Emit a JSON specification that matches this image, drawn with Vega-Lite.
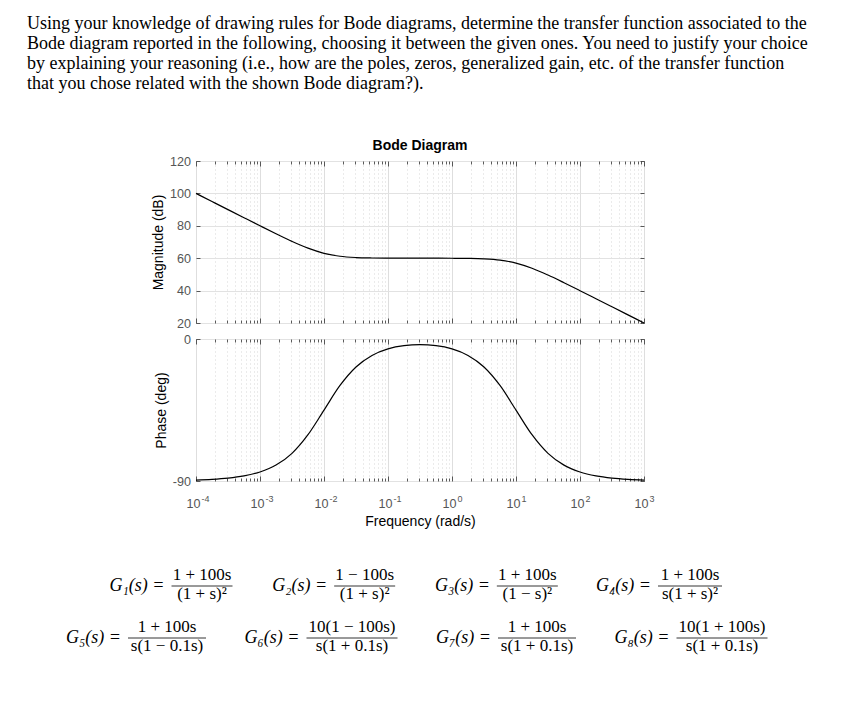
{
  "$schema": "https://vega.github.io/schema/vega-lite/v6.json",
  "background": "white",
  "padding": {"left": 27, "top": 14, "right": 10, "bottom": 10},
  "title": {
    "text": [
      "Using your knowledge of drawing rules for Bode diagrams, determine the transfer function associated to the",
      "Bode diagram reported in the following, choosing it between the given ones. You need to justify your choice",
      "by explaining your reasoning (i.e., how are the poles, zeros, generalized gain, etc.  of the transfer function",
      "that you chose related with the shown Bode diagram?)."
    ],
    "anchor": "start",
    "frame": "group",
    "dx": -169,
    "font": "Liberation Serif",
    "fontSize": 18,
    "fontWeight": "normal",
    "color": "#000",
    "lineHeight": 20,
    "offset": 46
  },
  "spacing": 33,
  "vconcat": [
    {
      "spacing": 1,
      "vconcat": [
        {
          "width": 448,
          "height": 162,
          "title": {"text": "Bode Diagram", "font": "Liberation Sans", "fontSize": 14, "fontWeight": "bold", "color": "#000", "offset": 2},
          "data": {"name": "bode"},
          "layer": [
            {
              "mark": {"type": "line", "color": "#000", "strokeWidth": 1.2, "interpolate": "monotone"},
              "encoding": {
                "x": {
                  "field": "w", "type": "quantitative",
                  "scale": {"type": "log", "domain": [0.0001, 1000], "nice": false},
                  "axis": {
                    "orient": "bottom", "title": null, "labels": false,
                    "values": [0.0001,0.0002,0.0003,0.0004,0.0005,0.0006,0.0007,0.0008,0.0009,0.001,0.002,0.003,0.004,0.005,0.006,0.007,0.008,0.009,0.01,0.02,0.03,0.04,0.05,0.06,0.07,0.08,0.09,0.1,0.2,0.3,0.4,0.5,0.6,0.7,0.8,0.9,1,2,3,4,5,6,7,8,9,10,20,30,40,50,60,70,80,90,100,200,300,400,500,600,700,800,900,1000],
                    "tickSize": {"condition": {"test": "abs(log(datum.value)/LN10 - round(log(datum.value)/LN10)) < 0.001", "value": -5}, "value": -3},
                    "grid": true,
                    "gridColor": {"condition": {"test": "abs(log(datum.value)/LN10 - round(log(datum.value)/LN10)) < 0.001", "value": "#dedede"}, "value": "#d6d6d6"},
                    "gridDash": {"condition": {"test": "abs(log(datum.value)/LN10 - round(log(datum.value)/LN10)) < 0.001", "value": []}, "value": [1, 3]}
                  }
                },
                "y": {
                  "field": "mag", "type": "quantitative",
                  "scale": {"domain": [20, 120], "nice": false, "zero": false},
                  "axis": {
                    "values": [20, 40, 60, 80, 100, 120],
                    "tickSize": -4, "labelPadding": 9.5,
                    "grid": true,
                    "title": "Magnitude (dB)", "titlePadding": 4
                  }
                }
              }
            },
            {
              "mark": {"type": "line", "opacity": 0},
              "encoding": {
                "x": {
                  "field": "w", "type": "quantitative",
                  "scale": {"type": "log", "domain": [0.0001, 1000], "nice": false},
                  "axis": {
                    "orient": "top", "title": null, "labels": false, "grid": false,
                    "values": [0.0001,0.0002,0.0003,0.0004,0.0005,0.0006,0.0007,0.0008,0.0009,0.001,0.002,0.003,0.004,0.005,0.006,0.007,0.008,0.009,0.01,0.02,0.03,0.04,0.05,0.06,0.07,0.08,0.09,0.1,0.2,0.3,0.4,0.5,0.6,0.7,0.8,0.9,1,2,3,4,5,6,7,8,9,10,20,30,40,50,60,70,80,90,100,200,300,400,500,600,700,800,900,1000],
                    "tickSize": {"condition": {"test": "abs(log(datum.value)/LN10 - round(log(datum.value)/LN10)) < 0.001", "value": -5}, "value": -3}
                  }
                },
                "y": {
                  "field": "mag", "type": "quantitative",
                  "scale": {"domain": [20, 120], "nice": false, "zero": false},
                  "axis": {"orient": "right", "title": null, "labels": false, "grid": false, "values": [20, 40, 60, 80, 100, 120], "tickSize": -4}
                }
              }
            }
          ],
          "resolve": {"axis": {"x": "independent", "y": "independent"}}
        },
        {
          "width": 448,
          "height": 142,
          "data": {"name": "bode"},
          "layer": [
            {
              "mark": {"type": "line", "color": "#000", "strokeWidth": 1.2, "interpolate": "monotone"},
              "encoding": {
                "x": {
                  "field": "w", "type": "quantitative",
                  "scale": {"type": "log", "domain": [0.0001, 1000], "nice": false},
                  "axis": {
                    "orient": "bottom",
                    "title": "Frequency  (rad/s)", "titlePadding": 2,
                    "values": [0.0001,0.0002,0.0003,0.0004,0.0005,0.0006,0.0007,0.0008,0.0009,0.001,0.002,0.003,0.004,0.005,0.006,0.007,0.008,0.009,0.01,0.02,0.03,0.04,0.05,0.06,0.07,0.08,0.09,0.1,0.2,0.3,0.4,0.5,0.6,0.7,0.8,0.9,1,2,3,4,5,6,7,8,9,10,20,30,40,50,60,70,80,90,100,200,300,400,500,600,700,800,900,1000],
                    "labelExpr": "abs(log(datum.value)/LN10 - round(log(datum.value)/LN10)) > 0.001 ? '' : '10'",
                    "labelFlush": false, "labelOverlap": false, "labelPadding": 21.5, "labelOffset": -3,
                    "tickSize": {"condition": {"test": "abs(log(datum.value)/LN10 - round(log(datum.value)/LN10)) < 0.001", "value": -5}, "value": -3},
                    "grid": true,
                    "gridColor": {"condition": {"test": "abs(log(datum.value)/LN10 - round(log(datum.value)/LN10)) < 0.001", "value": "#dedede"}, "value": "#d6d6d6"},
                    "gridDash": {"condition": {"test": "abs(log(datum.value)/LN10 - round(log(datum.value)/LN10)) < 0.001", "value": []}, "value": [1, 3]}
                  }
                },
                "y": {
                  "field": "ph", "type": "quantitative",
                  "scale": {"domain": [-90, 0], "nice": false, "zero": false},
                  "axis": {
                    "values": [-90, 0],
                    "labelExpr": "datum.value < 0 ? '-90' : '0'",
                    "tickSize": -4, "labelPadding": 9.5,
                    "grid": true,
                    "title": "Phase (deg)", "titlePadding": 4
                  }
                }
              }
            },
            {
              "mark": {"type": "line", "opacity": 0},
              "encoding": {
                "x": {
                  "field": "w", "type": "quantitative",
                  "scale": {"type": "log", "domain": [0.0001, 1000], "nice": false},
                  "axis": {
                    "orient": "top", "title": null, "labels": false, "grid": false,
                    "values": [0.0001,0.0002,0.0003,0.0004,0.0005,0.0006,0.0007,0.0008,0.0009,0.001,0.002,0.003,0.004,0.005,0.006,0.007,0.008,0.009,0.01,0.02,0.03,0.04,0.05,0.06,0.07,0.08,0.09,0.1,0.2,0.3,0.4,0.5,0.6,0.7,0.8,0.9,1,2,3,4,5,6,7,8,9,10,20,30,40,50,60,70,80,90,100,200,300,400,500,600,700,800,900,1000],
                    "tickSize": {"condition": {"test": "abs(log(datum.value)/LN10 - round(log(datum.value)/LN10)) < 0.001", "value": -5}, "value": -3}
                  }
                },
                "y": {
                  "field": "ph", "type": "quantitative",
                  "scale": {"domain": [-90, 0], "nice": false, "zero": false},
                  "axis": {"orient": "right", "title": null, "labels": false, "grid": false, "values": [-90, 0], "tickSize": -4}
                }
              }
            },
            {
              "mark": {"type": "line", "opacity": 0},
              "encoding": {
                "x": {
                  "field": "w", "type": "quantitative",
                  "scale": {"type": "log", "domain": [0.0001, 1000], "nice": false},
                  "axis": {
                    "orient": "bottom", "title": null, "grid": false,
                    "values": [0.0001, 0.001, 0.01, 0.1, 1, 10, 100, 1000],
                    "labelExpr": "replace(format(round(log(datum.value)/LN10), 'd'), '−', '-')",
                    "labelAlign": "left", "labelOffset": 5, "labelFontSize": 9,
                    "labelFlush": false, "labelOverlap": false, "labelPadding": 18.5,
                    "tickSize": -5, "tickOpacity": 0
                  }
                },
                "y": {"field": "ph", "type": "quantitative", "scale": {"domain": [-90, 0], "nice": false, "zero": false}, "axis": null}
              }
            }
          ],
          "resolve": {"axis": {"x": "independent", "y": "independent"}}
        }
      ]
    },
    {
      "width": 448,
      "height": 90,
      "view": {"stroke": null},
      "data": {"name": "eqs"},
      "encoding": {
        "y": {"field": "row", "type": "quantitative", "scale": {"domain": [1, 2], "range": [24, 76], "zero": false, "nice": false}, "axis": null}
      },
      "layer": [
        {
          "transform": [{"filter": "datum.row == 1"}],
          "encoding": {
            "x": {"field": "col", "type": "quantitative", "scale": {"domain": [1, 4], "range": [6, 494], "zero": false, "nice": false}, "axis": null}
          },
          "layer": [
            {"mark": {"type": "text", "dy": -6, "font": "Liberation Serif", "fontSize": 17, "align": "center", "baseline": "alphabetic", "color": "#000"}, "encoding": {"text": {"field": "num"}}},
            {"mark": {"type": "text", "dy": 13, "font": "Liberation Serif", "fontSize": 17, "align": "center", "baseline": "alphabetic", "color": "#000"}, "encoding": {"text": {"field": "den"}}},
            {
              "transform": [{"filter": {"field": "name", "oneOf": ["G1", "G2", "G3"]}}],
              "layer": [
                {"mark": {"type": "rule", "xOffset": -30.5, "x2Offset": 30.5, "strokeWidth": 0.8, "color": "#000"}, "encoding": {"x2": {"field": "col"}}},
                {"mark": {"type": "text", "xOffset": -37.5, "dy": 5, "font": "Liberation Serif", "fontSize": 18, "fontStyle": "italic", "align": "right", "baseline": "alphabetic", "color": "#000"}, "encoding": {"text": {"field": "lab"}}}
              ]
            },
            {
              "transform": [{"filter": {"field": "name", "oneOf": ["G4"]}}],
              "layer": [
                {"mark": {"type": "rule", "xOffset": -32, "x2Offset": 32, "strokeWidth": 0.8, "color": "#000"}, "encoding": {"x2": {"field": "col"}}},
                {"mark": {"type": "text", "xOffset": -39, "dy": 5, "font": "Liberation Serif", "fontSize": 18, "fontStyle": "italic", "align": "right", "baseline": "alphabetic", "color": "#000"}, "encoding": {"text": {"field": "lab"}}}
              ]
            }
          ]
        },
        {
          "transform": [{"filter": "datum.row == 2"}],
          "encoding": {
            "x": {"field": "col", "type": "quantitative", "scale": {"domain": [1, 4], "range": [-29, 526], "zero": false, "nice": false}, "axis": null}
          },
          "layer": [
            {"mark": {"type": "text", "dy": -6, "font": "Liberation Serif", "fontSize": 17, "align": "center", "baseline": "alphabetic", "color": "#000"}, "encoding": {"text": {"field": "num"}}},
            {"mark": {"type": "text", "dy": 13, "font": "Liberation Serif", "fontSize": 17, "align": "center", "baseline": "alphabetic", "color": "#000"}, "encoding": {"text": {"field": "den"}}},
            {
              "transform": [{"filter": {"field": "name", "oneOf": ["G5", "G7"]}}],
              "layer": [
                {"mark": {"type": "rule", "xOffset": -39, "x2Offset": 39, "strokeWidth": 0.8, "color": "#000"}, "encoding": {"x2": {"field": "col"}}},
                {"mark": {"type": "text", "xOffset": -46, "dy": 5, "font": "Liberation Serif", "fontSize": 18, "fontStyle": "italic", "align": "right", "baseline": "alphabetic", "color": "#000"}, "encoding": {"text": {"field": "lab"}}}
              ]
            },
            {
              "transform": [{"filter": {"field": "name", "oneOf": ["G6", "G8"]}}],
              "layer": [
                {"mark": {"type": "rule", "xOffset": -45.5, "x2Offset": 45.5, "strokeWidth": 0.8, "color": "#000"}, "encoding": {"x2": {"field": "col"}}},
                {"mark": {"type": "text", "xOffset": -52.5, "dy": 5, "font": "Liberation Serif", "fontSize": 18, "fontStyle": "italic", "align": "right", "baseline": "alphabetic", "color": "#000"}, "encoding": {"text": {"field": "lab"}}}
              ]
            }
          ]
        }
      ],
      "resolve": {"scale": {"x": "independent"}}
    }
  ],
  "datasets": {
    "bode": [
      {"w": 0.0001, "mag": 100.0, "ph": -89.43},
      {"w": 0.0001778, "mag": 95.0, "ph": -88.98},
      {"w": 0.0003162, "mag": 90.0, "ph": -88.19},
      {"w": 0.0005623, "mag": 85.01, "ph": -86.78},
      {"w": 0.001, "mag": 80.04, "ph": -84.29},
      {"w": 0.001778, "mag": 75.14, "ph": -79.92},
      {"w": 0.003162, "mag": 70.41, "ph": -72.45},
      {"w": 0.005623, "mag": 66.19, "ph": -60.64},
      {"w": 0.01, "mag": 63.01, "ph": -45.06},
      {"w": 0.01778, "mag": 61.19, "ph": -29.46},
      {"w": 0.03162, "mag": 60.41, "ph": -17.73},
      {"w": 0.05623, "mag": 60.13, "ph": -10.40},
      {"w": 0.1, "mag": 60.04, "ph": -6.28},
      {"w": 0.1778, "mag": 60.01, "ph": -4.24},
      {"w": 0.3162, "mag": 60.0, "ph": -3.62},
      {"w": 0.5623, "mag": 59.99, "ph": -4.24},
      {"w": 1, "mag": 59.96, "ph": -6.28},
      {"w": 1.778, "mag": 59.87, "ph": -10.40},
      {"w": 3.162, "mag": 59.59, "ph": -17.73},
      {"w": 5.623, "mag": 58.81, "ph": -29.46},
      {"w": 10, "mag": 56.99, "ph": -45.06},
      {"w": 17.78, "mag": 53.81, "ph": -60.67},
      {"w": 31.62, "mag": 49.59, "ph": -72.47},
      {"w": 56.23, "mag": 44.86, "ph": -79.93},
      {"w": 100, "mag": 39.96, "ph": -84.30},
      {"w": 177.8, "mag": 34.99, "ph": -86.78},
      {"w": 316.2, "mag": 30.0, "ph": -88.19},
      {"w": 562.3, "mag": 25.0, "ph": -88.98},
      {"w": 1000, "mag": 20.0, "ph": -89.43}
    ],
    "eqs": [
      {"name": "G1", "lab": "G₁(s) =", "num": "1 + 100s", "den": "(1 + s)²", "row": 1, "col": 1},
      {"name": "G2", "lab": "G₂(s) =", "num": "1 − 100s", "den": "(1 + s)²", "row": 1, "col": 2},
      {"name": "G3", "lab": "G₃(s) =", "num": "1 + 100s", "den": "(1 − s)²", "row": 1, "col": 3},
      {"name": "G4", "lab": "G₄(s) =", "num": "1 + 100s", "den": "s(1 + s)²", "row": 1, "col": 4},
      {"name": "G5", "lab": "G₅(s) =", "num": "1 + 100s", "den": "s(1 − 0.1s)", "row": 2, "col": 1},
      {"name": "G6", "lab": "G₆(s) =", "num": "10(1 − 100s)", "den": "s(1 + 0.1s)", "row": 2, "col": 2},
      {"name": "G7", "lab": "G₇(s) =", "num": "1 + 100s", "den": "s(1 + 0.1s)", "row": 2, "col": 3},
      {"name": "G8", "lab": "G₈(s) =", "num": "10(1 + 100s)", "den": "s(1 + 0.1s)", "row": 2, "col": 4}
    ]
  },
  "config": {
    "font": "Liberation Sans",
    "view": {"stroke": "#333", "strokeWidth": 1},
    "axis": {
      "labelFont": "Liberation Sans",
      "titleFont": "Liberation Sans",
      "labelFontSize": 12.6,
      "titleFontSize": 14,
      "titleFontWeight": "normal",
      "labelColor": "#555",
      "titleColor": "#000",
      "domain": false,
      "tickColor": "#333",
      "tickWidth": 0.8,
      "gridColor": "#e2e2e2",
      "gridWidth": 1,
      "gridOpacity": 1
    }
  }
}
